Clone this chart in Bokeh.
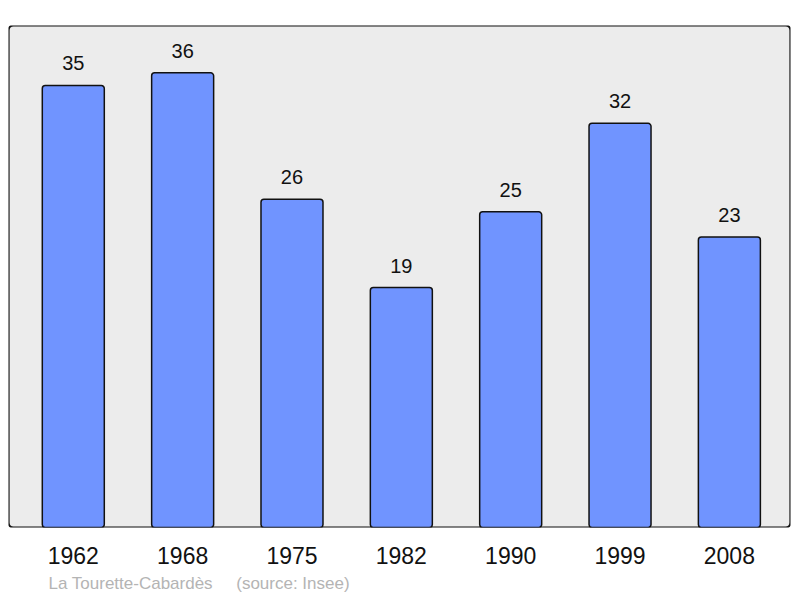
from bokeh.plotting import figure
from bokeh.models import ColumnDataSource, BoxAnnotation, Title, FixedTicker, Range1d
from bokeh.core.properties import value
from bokeh.embed import file_html
from bokeh.resources import INLINE

years = ["1962", "1968", "1975", "1982", "1990", "1999", "2008"]
population = [35, 36, 26, 19, 25, 32, 23]
commune = "La Tourette-Cabardès"
source_note = "(source: Insee)"

xs = list(range(len(years)))
src = ColumnDataSource(dict(x=xs, top=population, label=[str(v) for v in population]))

p = figure(frame_width=782, frame_height=502, output_backend="svg", toolbar_location=None,
           x_range=Range1d(-0.5926, 6.559), y_range=Range1d(0, 39.75),
           min_border_left=8, min_border_right=2, min_border_top=25, min_border_bottom=0)
p.background_fill_color = None
p.border_fill_color = "white"
p.outline_line_color = None
p.grid.visible = False
p.yaxis.visible = False

frame = BoxAnnotation(fill_color="#ececec", fill_alpha=1, line_color="#111111", line_alpha=1,
                      line_width=2.2, border_radius=5, level="underlay")
p.add_layout(frame)

p.vbar(x="x", top="top", width=0.567, bottom=0, source=src, fill_color="#7094ff",
       line_color="#111111", line_width=1.5, border_radius=3)
p.text(x="x", y="top", text="label", source=src, text_align="center", text_baseline="alphabetic",
       y_offset=-22, text_font=value("Liberation Sans"), text_font_size="20px", text_color="#111111")

ax = p.xaxis[0]
ax.ticker = FixedTicker(ticks=xs)
ax.major_label_overrides = {i: y for i, y in enumerate(years)}
ax.axis_line_color = None
ax.major_tick_line_color = None
ax.minor_tick_line_color = None
ax.major_label_text_font = "Liberation Sans"
ax.major_label_text_font_size = "23px"
ax.major_label_text_color = "#111111"
ax.major_label_standoff = 13

t = Title(text=commune + "\u00a0\u00a0\u00a0\u00a0\u00a0" + source_note, align="left", offset=40,
          text_font="Liberation Sans", text_font_size="17px", text_font_style="normal",
          text_color="#b4b4b4", standoff=11)
p.add_layout(t, "below")

open("out.html", "w").write(file_html(p, INLINE))
